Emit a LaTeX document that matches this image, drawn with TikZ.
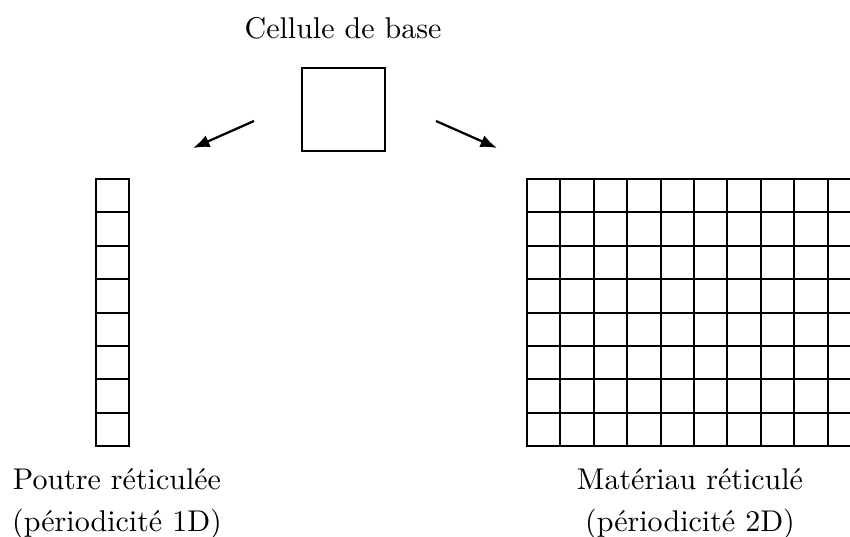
\documentclass[tikz,border=0pt]{standalone}
\usetikzlibrary{arrows.meta}
\begin{document}
\begin{tikzpicture}[x=0.3333pt,y=-0.3333pt,
  cellline/.style={line width=0.7pt},
  arr/.style={line width=0.75pt,-{Latex[length=5.5pt,width=4.2pt]}},
  lbl/.style={align=center,inner sep=0pt}]
\useasboundingbox (0,0) rectangle (850,536);
\clip (0,0) rectangle (850,536);
\node[lbl] (title) at (343,28) {Cellule de base};
\node[draw,cellline,minimum size=83*0.3333pt,inner sep=0pt] (base) at (343.5,109.5) {};
\coordinate (la) at (254,121);
\coordinate (lb) at (193,148);
\coordinate (ra) at (436,121);
\coordinate (rb) at (497,148);
\draw[arr] (la) -- (lb);
\draw[arr] (ra) -- (rb);
% 1D column
\draw[cellline] (96,179) rectangle (129.4,446.2);
\foreach \i in {1,...,7} {
  \draw[cellline] (96,{179+\i*33.4}) -- (129.4,{179+\i*33.4});
}
% 2D grid
\draw[cellline] (527,179) rectangle (861,446.2);
\foreach \i in {1,...,7} {
  \draw[cellline] (527,{179+\i*33.4}) -- (861,{179+\i*33.4});
}
\foreach \j in {1,...,9} {
  \draw[cellline] ({527+\j*33.4},179) -- ({527+\j*33.4},446.2);
}
\node[lbl] (l1) at (117,504) {Poutre réticulée\\[2pt](périodicité 1D)};
\node[lbl] (l2) at (690,504) {Matériau réticulé\\[2pt](périodicité 2D)};
\end{tikzpicture}
\end{document}
